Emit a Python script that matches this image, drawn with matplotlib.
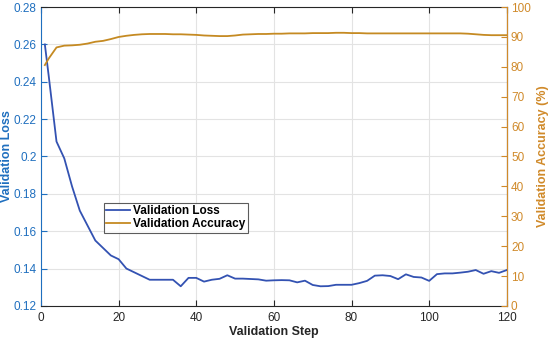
import numpy as np
import matplotlib.pyplot as plt

plt.rcParams['font.family'] = ['Liberation Sans', 'DejaVu Sans']

steps = [1, 2] + list(range(4, 121, 2))
val_loss = [0.260, 0.243, 0.208, 0.199, 0.184, 0.171, 0.163, 0.155, 0.151, 0.147,
            0.145, 0.140, 0.138, 0.136, 0.134, 0.134, 0.134, 0.134, 0.1305, 0.135,
            0.135, 0.133, 0.134, 0.1345, 0.1364, 0.1346, 0.1346, 0.1344, 0.1342, 0.1335,
            0.1337, 0.1338, 0.1337, 0.1326, 0.1335, 0.1312, 0.1305, 0.1306, 0.1313, 0.1313,
            0.1313, 0.1322, 0.1334, 0.1362, 0.1364, 0.1360, 0.1343, 0.1369, 0.1355, 0.1352,
            0.1334, 0.1370, 0.1374, 0.1374, 0.1378, 0.1383, 0.1392, 0.1372, 0.1386, 0.1377,
            0.1392]
val_acc = [80.6, 82.8, 86.5, 87.1, 87.2, 87.4, 87.8, 88.4, 88.7, 89.3,
           90.0, 90.4, 90.7, 90.9, 91.0, 91.0, 91.0, 90.9, 90.9, 90.8,
           90.7, 90.5, 90.4, 90.3, 90.3, 90.5, 90.8, 90.9, 91.0, 91.0,
           91.1, 91.1, 91.2, 91.2, 91.2, 91.3, 91.3, 91.3, 91.4, 91.4,
           91.3, 91.3, 91.2, 91.2, 91.2, 91.2, 91.2, 91.2, 91.2, 91.2,
           91.2, 91.2, 91.2, 91.2, 91.2, 91.1, 90.9, 90.7, 90.6, 90.6,
           90.6]

LOSS_C = '#3352B2'
ACC_C = '#C58A22'
LTICK = '#1F6FBF'
RTICK = '#D08A2A'

fig = plt.figure(figsize=(5.5, 3.38), dpi=100)
ax = fig.add_axes([0.0745, 0.095, 0.847, 0.884])
ax2 = ax.twinx()

l1, = ax.plot(steps, val_loss, color=LOSS_C, lw=1.3, label='Validation Loss')
l2, = ax2.plot(steps, val_acc, color=ACC_C, lw=1.3, label='Validation Accuracy')

ax.set_xlim(0, 120)
ax.set_ylim(0.12, 0.28)
ax.set_xticks(range(0, 121, 20))
ax.set_yticks(np.arange(0.12, 0.281, 0.02))
ax.set_yticklabels(['0.12', '0.14', '0.16', '0.18', '0.2', '0.22', '0.24', '0.26', '0.28'])
ax2.set_ylim(0, 100)
ax2.set_yticks(range(0, 101, 10))

ax.grid(True, color='#e3e3e3', lw=0.8)
ax.set_axisbelow(True)

ax.tick_params(axis='x', direction='in', length=4, labelsize=8.5, colors='#262626', top=True, pad=4.5)
ax.tick_params(axis='y', direction='in', length=4, labelsize=8.5, colors=LTICK, pad=3)
ax2.tick_params(axis='y', direction='in', length=4, labelsize=8.5, colors=RTICK, pad=3)

for s in ['top', 'bottom']:
    ax.spines[s].set_color('#262626')
ax.spines['left'].set_color(LTICK)
ax2.spines['left'].set_visible(False)
ax2.spines['right'].set_color(RTICK)
ax2.spines['top'].set_visible(False)
ax2.spines['bottom'].set_visible(False)

ax.set_xlabel('Validation Step', fontsize=9, fontweight='bold', color='#262626')
ax.set_ylabel('Validation Loss', fontsize=9, fontweight='bold', color=LTICK)
ax2.set_ylabel('Validation Accuracy (%)', fontsize=9, fontweight='bold', color=RTICK)
ax.xaxis.set_label_coords(0.5, -0.068)
ax.yaxis.set_label_coords(-0.06, 0.5)
ax2.yaxis.set_label_coords(1.064, 0.5)

leg = ax2.legend(handles=[l1, l2], loc='lower left', bbox_to_anchor=(0.135, 0.245),
                 fontsize=8.5, frameon=True, fancybox=False, edgecolor='#333333',
                 borderpad=0.2, handlelength=2.0, handletextpad=0.3, labelspacing=0.1,
                 borderaxespad=0)
leg.get_frame().set_linewidth(0.8)
for t in leg.get_texts():
    t.set_fontweight('bold')

fig.savefig('out.png', dpi=100)
